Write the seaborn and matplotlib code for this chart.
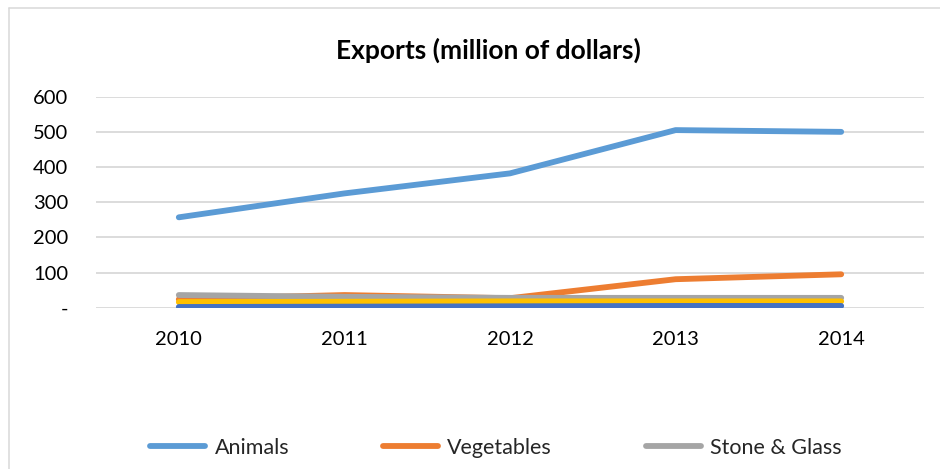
import numpy as np
import pandas as pd
import matplotlib
matplotlib.use("Agg")
import matplotlib.pyplot as plt
from matplotlib.lines import Line2D
import seaborn as sns

# Export values per product group, million of dollars
years = [2010, 2011, 2012, 2013, 2014]
animals = [257, 325, 382, 505, 500]
vegetables = [24, 36, 27, 81, 95]
stone_glass = [36, 31, 28, 28, 28]
metals = [16, 17, 18, 18, 18]
machinery = [2, 3, 4, 5, 5]

series_names = ["Animals", "Vegetables", "Stone & Glass", "Metals", "Machinery"]
series_values = [animals, vegetables, stone_glass, metals, machinery]
series_colors = ["#5B9BD5", "#ED7D31", "#A5A5A5", "#FFC000", "#4472C4"]
legend_names = ["Animals", "Vegetables", "Stone & Glass"]

y_ticks = [0, 100, 200, 300, 400, 500, 600]
y_tick_labels = ["-", "100", "200", "300", "400", "500", "600"]
x_tick_labels = ["2010", "2011", "2012", "2013", "2014"]
title = "Exports (million of dollars)"

df = pd.DataFrame(
    [(y, name, v) for name, vals in zip(series_names, series_values) for y, v in zip(years, vals)],
    columns=["year", "group", "value"],
)

sns.set_theme(style="white")
plt.rcParams["font.family"] = ["Lato", "DejaVu Sans"]

W, H = 940, 469
fig = plt.figure(figsize=(W / 100, H / 100), dpi=100)

def px(x0, y0, x1, y1):
    return [x0 / W, 1 - y1 / H, (x1 - x0) / W, (y1 - y0) / H]

ax = fig.add_axes(px(96, 96.7, 924, 307.7))

# horizontal gridlines, including the zero line
for t in y_ticks:
    ax.axhline(t, color="#D9D9D9", lw=1.3, zorder=0)

sns.lineplot(
    data=df, x="year", y="value", hue="group", hue_order=series_names,
    palette=series_colors, linewidth=4.2, ax=ax, legend=True,
    solid_capstyle="round", solid_joinstyle="round", sort=False,
)

ax.set_xlim(2009.5, 2014.5)
ax.set_ylim(0, 600)
ax.set_xticks(years)
ax.set_xticklabels(x_tick_labels)
ax.set_yticks(y_ticks)
ax.set_yticklabels(y_tick_labels)
ax.set_xlabel("")
ax.set_ylabel("")
ax.tick_params(axis="y", length=0, pad=20, labelsize=14.5, labelcolor="#000000")
ax.tick_params(axis="x", length=0, pad=17, labelsize=14.5, labelcolor="#000000")
for s in ax.spines.values():
    s.set_visible(False)
ax.set_facecolor("none")

# legend: first row only
ax.get_legend().remove()
handles = [Line2D([], [], color=c, lw=4.2, solid_capstyle="round")
           for n, c in zip(series_names, series_colors) if n in legend_names]
fig.legend(handles, legend_names, ncol=3, loc="center",
           bbox_to_anchor=(496 / W, 1 - 447.7 / H), frameon=False,
           fontsize=15.5, handlelength=2.55, handletextpad=0.45,
           columnspacing=4.35)

fig.text(488 / W, 1 - 50.7 / H, title, ha="center", va="center",
         fontsize=19, fontweight="bold", color="#000000")

# chart frame
fig.add_artist(Line2D([9 / W, 9 / W], [0, 1 - 8 / H], color="#D9D9D9", lw=1.1,
                      transform=fig.transFigure))
fig.add_artist(Line2D([9 / W, 1], [1 - 8 / H, 1 - 8 / H], color="#D9D9D9", lw=1.1,
                      transform=fig.transFigure))

fig.savefig("out.png", dpi=100, facecolor="white")
